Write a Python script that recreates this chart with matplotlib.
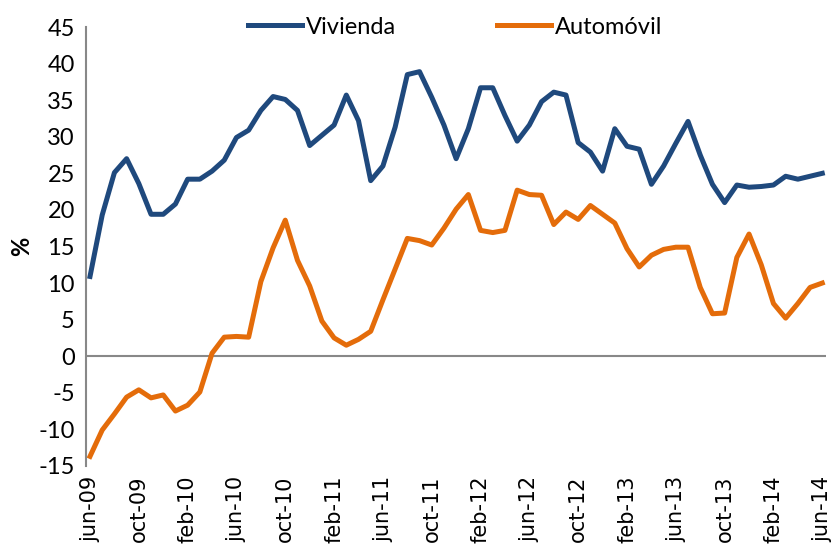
import matplotlib
matplotlib.use('Agg')
import matplotlib.pyplot as plt

plt.rcParams['font.family'] = ['Lato', 'DejaVu Sans']
plt.rcParams['axes.unicode_minus'] = False

# etiquetas mensuales jun-09 .. jun-14
nombres = ['jan', 'feb', 'mar', 'apr', 'may', 'jun', 'jul', 'aug', 'sep', 'oct', 'nov', 'dec']
fechas = []
for k in range(61):
    m = (5 + k) % 12
    a = 9 + (5 + k) // 12
    fechas.append('%s-%02d' % (nombres[m], a))

vivienda = [10.9, 19.3, 25.1, 27.0, 23.6, 19.4, 19.4, 20.8, 24.2, 24.2,
            25.3, 26.8, 29.9, 30.9, 33.6, 35.5, 35.1, 33.6, 28.8, 30.2,
            31.6, 35.7, 32.2, 24.0, 26.0, 31.3, 38.5, 38.9, 35.4, 31.6,
            27.0, 31.1, 36.7, 36.7, 32.9, 29.4, 31.6, 34.8, 36.1, 35.7,
            29.2, 27.9, 25.3, 31.1, 28.7, 28.3, 23.5, 26.0, 29.1, 32.1,
            27.5, 23.5, 21.0, 23.4, 23.1, 23.2, 23.4, 24.6, 24.2, 24.6,
            25.0]

automovil = [-13.7, -10.1, -7.9, -5.6, -4.6, -5.7, -5.3, -7.5, -6.7, -4.9,
             0.4, 2.6, 2.7, 2.6, 10.2, 14.8, 18.6, 13.1, 9.6, 4.8,
             2.5, 1.5, 2.3, 3.4, 7.7, 11.9, 16.1, 15.8, 15.2, 17.5,
             20.1, 22.1, 17.2, 16.9, 17.2, 22.7, 22.1, 22.0, 18.0, 19.7,
             18.7, 20.6, 19.4, 18.2, 14.7, 12.2, 13.8, 14.6, 14.9, 14.9,
             9.4, 5.8, 5.9, 13.5, 16.7, 12.5, 7.2, 5.2, 7.2, 9.4,
             10.0]

x = list(range(len(fechas)))

fig = plt.figure(figsize=(8.38, 5.52), dpi=100)
ax = fig.add_axes([0.1026, 0.156, 0.883, 0.795])

ax.plot(x, vivienda, color='#1F497D', lw=3.6, label='Vivienda', solid_joinstyle='round')
ax.plot(x, automovil, color='#E46C0A', lw=3.6, label='Automóvil', solid_joinstyle='round')

ax.set_xlim(-0.33, 60.3)
ax.set_ylim(-15, 45)
ax.set_yticks(range(-15, 50, 5))
ax.tick_params(axis='y', labelsize=17, length=0, pad=8)

ax.set_xticks(x[::4])
ax.set_xticklabels(fechas[::4], rotation=90, fontsize=15, family='DejaVu Sans')
ax.tick_params(axis='x', length=0, pad=7)

for s in ['top', 'right', 'bottom']:
    ax.spines[s].set_visible(False)
ax.spines['left'].set_color('#888888')
ax.spines['left'].set_linewidth(1.5)
ax.axhline(0, color='#888888', lw=1.5, zorder=1)

ax.set_ylabel('%', fontsize=17, fontweight='bold', labelpad=4)

fig.legend(loc='center', bbox_to_anchor=(0.543, 0.951), ncol=2, frameon=False,
           fontsize=17, handlelength=2.3, columnspacing=4.3, handletextpad=0.15)

fig.savefig('out.png', dpi=100)
